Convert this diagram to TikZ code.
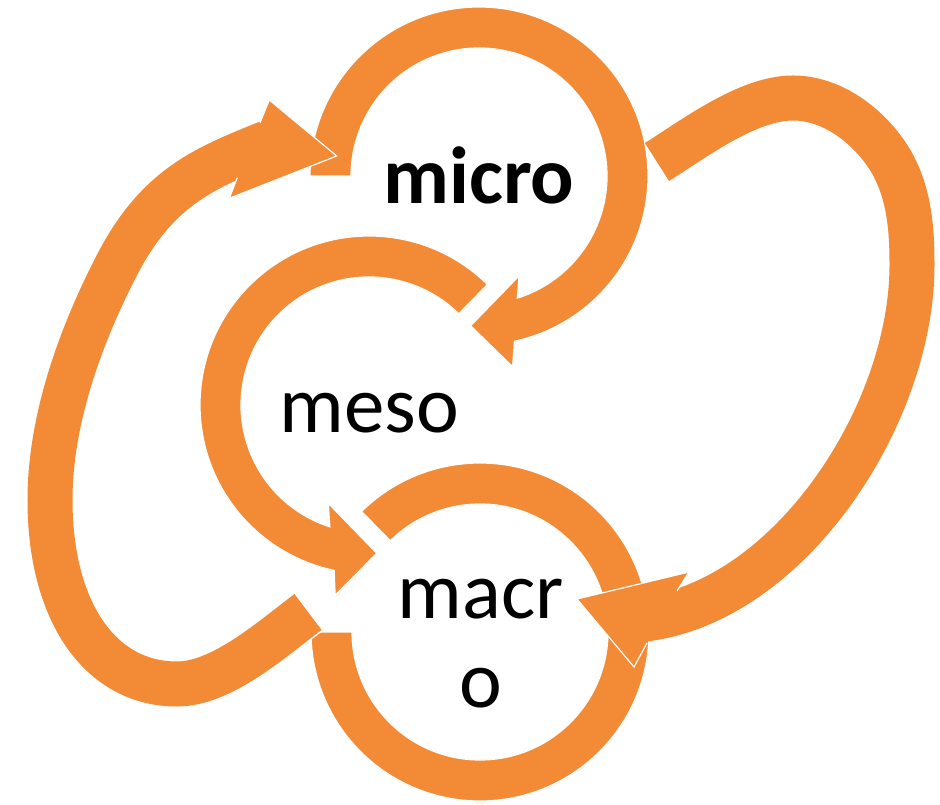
\documentclass[tikz,border=0pt]{standalone}
\usepackage{fontspec}
\setmainfont{Carlito}
\definecolor{arroworange}{HTML}{F38A35}

\begin{document}
\begin{tikzpicture}[x=1pt, y=1pt,
	ring arrow/.style={fill=arroworange, draw=white, line width=1.2pt},
	loop arrow/.style={draw=arroworange, line width=45pt,
		preaction={draw=white, line width=48pt}},
	arrow head/.style={fill=arroworange},
	head edge/.style={draw=white, line width=1.2pt, line join=miter},
	label node/.style={inner sep=0pt, anchor=base, font=\fontsize{81}{89}\selectfont}]
	\useasboundingbox (0,0) rectangle (940,804);
	
	\coordinate (mi) at (479,628);
	\coordinate (me) at (369,399);
	\coordinate (ma) at (480,172);
	
	% micro ring
	\path[ring arrow, shift={(mi)}] (180:169) arc[start angle=180, end angle=-77.9, radius=169]
	-- (-80:193.6) -- (-93.2:150) -- (-68.2:107.7) -- (-72.6:128)
	arc[start angle=-72.6, end angle=180, radius=128] -- cycle;
	
	% meso ring
	\path[ring arrow, shift={(me)}] (45.5:169) arc[start angle=45.5, end angle=258.1, radius=169]
	-- (259.9:193) -- (273:148.5) -- (247.5:106.4) -- (252.2:128)
	arc[start angle=252.2, end angle=45.5, radius=128] -- cycle;
	
	% macro ring
	\path[ring arrow, shift={(ma)}] (134.5:169) arc[start angle=134.5, end angle=-180, radius=169]
	-- (180:128) arc[start angle=-180, end angle=134.5, radius=128] -- cycle;
	
	% micro -> macro, right loop
	\coordinate (r0) at (657,642);
	\coordinate (r1) at (793,706);
	\coordinate (r2) at (893,639);
	\coordinate (r3) at (912,539);
	\coordinate (r4) at (645,185);
	\draw[loop arrow] (r0) .. controls (695,666) and (748,706) .. (r1)
	.. controls (838,706) and (876.5,669.8) .. (r2)
	.. controls (909.5,608.2) and (912,574) .. (r3)
	.. controls (912,389) and (790,203) .. (r4);
	\fill[arrow head] (677,213) -- (689,232) -- (577,205) -- (634,137) -- (647,161) -- cycle;
	\draw[head edge] (677,213) -- (689,232) -- (577,205) -- (634,137) -- (647,161);
	
	% macro -> micro, left loop
	\coordinate (l0) at (308,192);
	\coordinate (l1) at (177,120);
	\coordinate (l2) at (50,304);
	\coordinate (l3) at (117,539);
	\coordinate (l4) at (272,663);
	\draw[loop arrow] (l0) .. controls (272,165) and (222,120) .. (l1)
	.. controls (99,120) and (50,194) .. (l2)
	.. controls (50,384) and (80.2,467.8) .. (l3)
	.. controls (158.4,619.1) and (207.6,637.1) .. (l4);
	\fill[arrow head] (260,681.3) -- (269.3,704) -- (336.7,648) -- (229.3,605.7) -- (237.3,626.3) -- cycle;
	\draw[head edge] (260,681.3) -- (269.3,704) -- (336.7,648) -- (229.3,605.7) -- (237.3,626.3);
	
	\node[label node, font=\fontsize{81}{89}\selectfont\bfseries] (micro) at (479,600) {micro};
	\node[label node] (meso) at (369.5,371) {meso};
	\node[label node, align=center] (macro) at (480.5,97) {macr\\o};
\end{tikzpicture}
\end{document}
